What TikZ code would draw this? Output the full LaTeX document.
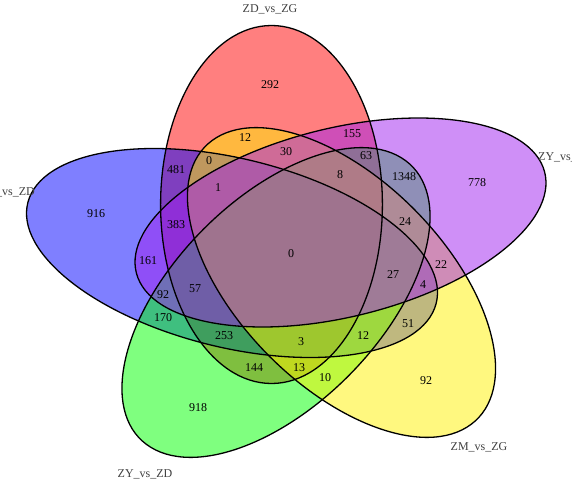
\documentclass[tikz,border=0pt]{standalone}
\usepackage{fontspec}
\setmainfont{Liberation Serif}
\definecolor{vennpurple}{HTML}{A020F0}

\begin{document}
\begin{tikzpicture}[
    x=1pt, y=1pt,
    setfill/.style={fill opacity=0.5},
    rim/.style={draw=black, line width=1.3pt},
    area/.style={font=\fontsize{12}{12}\selectfont, inner sep=0pt},
    setname/.style={font=\fontsize{12}{12}\selectfont, text=black!75, inner sep=0pt}
  ]
  \useasboundingbox (0,0) rectangle (572,480);
  \clip (0,0) rectangle (572,480);

  % sets: filled first, outlines on top
  \foreach \cx/\cy/\rot/\col in {271.5/275.5/0/red, 232/227/72/blue, 276/177.5/144/green,
      341.5/197.5/-144/yellow, 340.5/257.5/-72/vennpurple}
    \fill[\col, setfill, shift={(\cx,\cy)}, xscale=1.19, rotate=\rot] (0,0) ellipse (93.2 and 179);
  \foreach \cx/\cy/\rot in {271.5/275.5/0, 232/227/72, 276/177.5/144, 341.5/197.5/-144, 340.5/257.5/-72}
    \draw[rim, shift={(\cx,\cy)}, xscale=1.19, rotate=\rot] (0,0) ellipse (93.2 and 179);

  % region counts
  \foreach \x/\y/\t [count=\i] in {270/395/292, 245/342/12, 352/346/155, 209/319/0, 286/328/30,
      366/324/63, 176/310/481, 340/305/8, 404/303/1348, 218/292/1, 477/297/778, 96/266/916,
      176/255/383, 405/258/24, 291/226/0, 148/219/161, 441/215/22, 393/205/27, 423/195/4,
      195/191/57, 163/185/92, 163/162/170, 408/156/51, 224/144/253, 363/144/12, 301/138/3,
      254/112/144, 299/112/13, 325/102/10, 426/99/92, 198/72/918}
    \node[area] (r\i) at (\x,\y) {\t};

  % set names
  \node[setname] (zdzg) at (270,471) {ZD\_vs\_ZG};
  \node[setname, anchor=east] (xzd) at (35,288) {\_vs\_ZD};
  \node[setname, anchor=west] (zyx) at (538,323) {ZY\_vs\_};
  \node[setname] (zyzd) at (145,6) {ZY\_vs\_ZD};
  \node[setname] (zmzg) at (479,33) {ZM\_vs\_ZG};
\end{tikzpicture}
\end{document}
